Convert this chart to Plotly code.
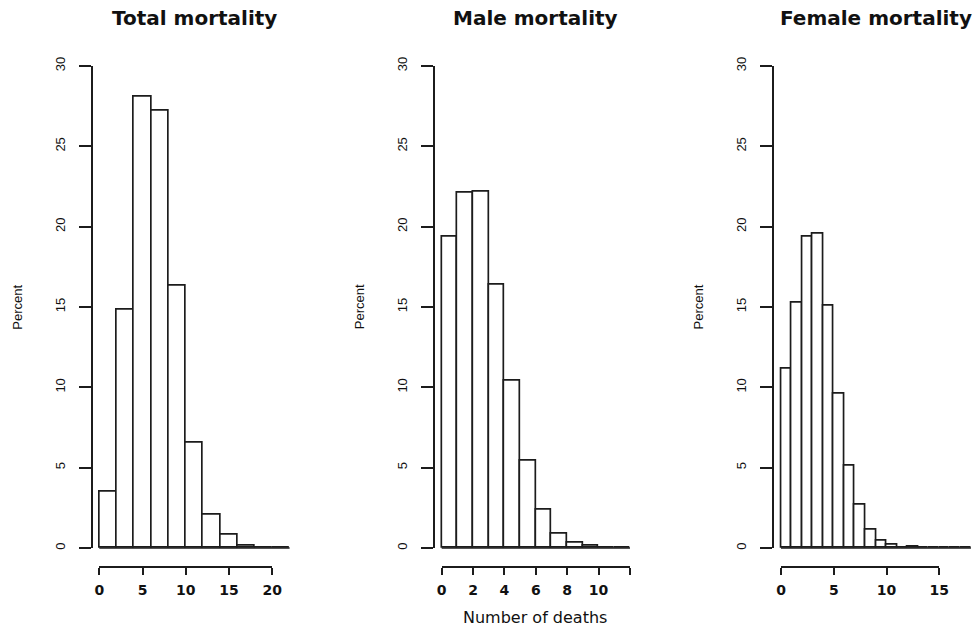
import plotly.graph_objects as go

W, H = 979, 628

# ---------------- data ----------------
titles = ["Total mortality", "Male mortality", "Female mortality"]

total_edges = list(range(0, 23, 2))
total_pct = [3.5, 14.8, 28.1, 27.2, 16.35, 6.55, 2.1, 0.8, 0.15, 0, 0]

male_edges = list(range(0, 13, 1))
male_pct = [19.35, 22.1, 22.15, 16.4, 10.4, 5.45, 2.4, 0.88, 0.35, 0.15, 0, 0]

female_edges = list(range(0, 19, 1))
female_pct = [11.15, 15.25, 19.35, 19.55, 15.05, 9.6, 5.1, 2.7, 1.15, 0.45,
              0.2, 0, 0.06, 0, 0, 0, 0, 0]

total_ticks = [0, 5, 10, 15, 20]
total_ticklabels = ["0", "5", "10", "15", "20"]
male_ticks = [0, 2, 4, 6, 8, 10, 12]
male_ticklabels = ["0", "2", "4", "6", "8", "10", ""]
female_ticks = [0, 5, 10, 15]
female_ticklabels = ["0", "5", "10", "15"]

y_ticks = [0, 5, 10, 15, 20, 25, 30]
y_ticklabels = ["0", "5", "10", "15", "20", "25", "30"]
x_title = "Number of deaths"
y_title = "Percent"

# ---------------- layout geometry (pixels) ----------------
panels = [
    dict(edges=total_edges, pct=total_pct, ticks=total_ticks, labels=total_ticklabels, x0px=99.3, ppu=8.65),
    dict(edges=male_edges, pct=male_pct, ticks=male_ticks, labels=male_ticklabels, x0px=441.7, ppu=15.69),
    dict(edges=female_edges, pct=female_pct, ticks=female_ticks, labels=female_ticklabels, x0px=781.0, ppu=10.55),
]
Y0PX, Y30PX = 548.0, 66.0
ppu_y = (Y0PX - Y30PX) / 30.0
ylo, yhi = -1.2, 31.2
ybot_px = Y0PX - ylo * ppu_y
ytop_px = Y0PX - yhi * ppu_y

LINE = "#1c1c1c"
fig = go.Figure()
layout = dict(width=W, height=H, autosize=False, margin=dict(l=0, r=0, t=0, b=0, autoexpand=False),
              paper_bgcolor="white", plot_bgcolor="rgba(0,0,0,0)", showlegend=False,
              bargap=0)
annotations = []

for i, p in enumerate(panels):
    edges, pct = p["edges"], p["pct"]
    xmax = edges[-1]
    xlo, xhi = -0.04 * xmax, 1.04 * xmax
    left_px = p["x0px"] + xlo * p["ppu"]
    right_px = p["x0px"] + xhi * p["ppu"]
    axis_end = p["ticks"][-1]

    dx = "x" if i == 0 else f"x{i+1}"
    dy = "y" if i == 0 else f"y{i+1}"
    tx = f"x{i+4}"
    ty = f"y{i+4}"

    centers = [(a + b) / 2 for a, b in zip(edges[:-1], edges[1:])]
    widths = [b - a for a, b in zip(edges[:-1], edges[1:])]
    fig.add_trace(go.Bar(x=centers, y=pct, width=widths, base=0,
                         marker=dict(color="white", line=dict(color=LINE, width=1.7)),
                         xaxis=dx, yaxis=dy, hoverinfo="skip"))
    # baseline across all bins (zero-height bins included)
    fig.add_trace(go.Scatter(x=[edges[0], edges[-1]], y=[0, 0], mode="lines",
                             line=dict(color=LINE, width=1.7), xaxis=dx, yaxis=dy,
                             hoverinfo="skip"))
    # dummy trace so the tick axes are drawn
    fig.add_trace(go.Scatter(x=[None], y=[None], mode="markers", xaxis=tx, yaxis=ty,
                             hoverinfo="skip"))

    hidden = dict(visible=False, showgrid=False, zeroline=False, fixedrange=True)
    layout["xaxis" if i == 0 else f"xaxis{i+1}"] = dict(
        hidden, domain=[left_px / W, right_px / W], range=[xlo, xhi], anchor=dy)
    layout["yaxis" if i == 0 else f"yaxis{i+1}"] = dict(
        hidden, domain=[1 - ybot_px / H, 1 - ytop_px / H], range=[ylo, yhi], anchor=dx)

    tickfont_x = dict(family="DejaVu Sans", size=14, color="#111", weight="bold")
    tickfont_y = dict(family="Liberation Sans, Arial", size=13, color="#111")
    layout[f"xaxis{i+4}"] = dict(
        domain=[p["x0px"] / W, (p["x0px"] + axis_end * p["ppu"]) / W],
        range=[0, axis_end], anchor="free", position=1 - ybot_px / H,
        showline=True, linecolor=LINE, linewidth=2, ticks="outside", ticklen=7,
        tickwidth=2, tickcolor=LINE, tickvals=p["ticks"], ticktext=p["labels"],
        tickfont=tickfont_x, showgrid=False, zeroline=False, fixedrange=True,
        ticklabelstandoff=3, automargin=False)
    layout[f"yaxis{i+4}"] = dict(
        domain=[1 - Y0PX / H, 1 - Y30PX / H], range=[0, 30], anchor="free",
        position=left_px / W, showline=True, linecolor=LINE, linewidth=2,
        ticks="outside", ticklen=12, tickwidth=2, tickcolor=LINE,
        tickvals=y_ticks, ticktext=y_ticklabels, tickangle=-90,
        tickfont=tickfont_y, showgrid=False, zeroline=False, fixedrange=True,
        ticklabelstandoff=9, automargin=False)

    annotations.append(dict(text=titles[i], x=(left_px + right_px) / 2 / W, y=1 - 18 / H,
                            xref="paper", yref="paper", showarrow=False,
                            xanchor="center", yanchor="middle",
                            font=dict(family="DejaVu Sans", size=20, color="#111", weight="bold")))
    annotations.append(dict(text=y_title, x=(left_px - 75) / W, y=1 - 307 / H,
                            xref="paper", yref="paper", showarrow=False, textangle=-90,
                            xanchor="center", yanchor="middle",
                            font=dict(family="Liberation Sans, Arial", size=13, color="#111")))

annotations.append(dict(text=x_title, x=535 / W, y=1 - 617 / H, xref="paper", yref="paper",
                        showarrow=False, xanchor="center", yanchor="middle",
                        font=dict(family="DejaVu Sans", size=16, color="#111")))
layout["annotations"] = annotations
fig.update_layout(**layout)
fig.write_html("out.html", config={"displayModeBar": False},
               post_script="document.body.style.margin='0';document.body.style.overflow='hidden';")
